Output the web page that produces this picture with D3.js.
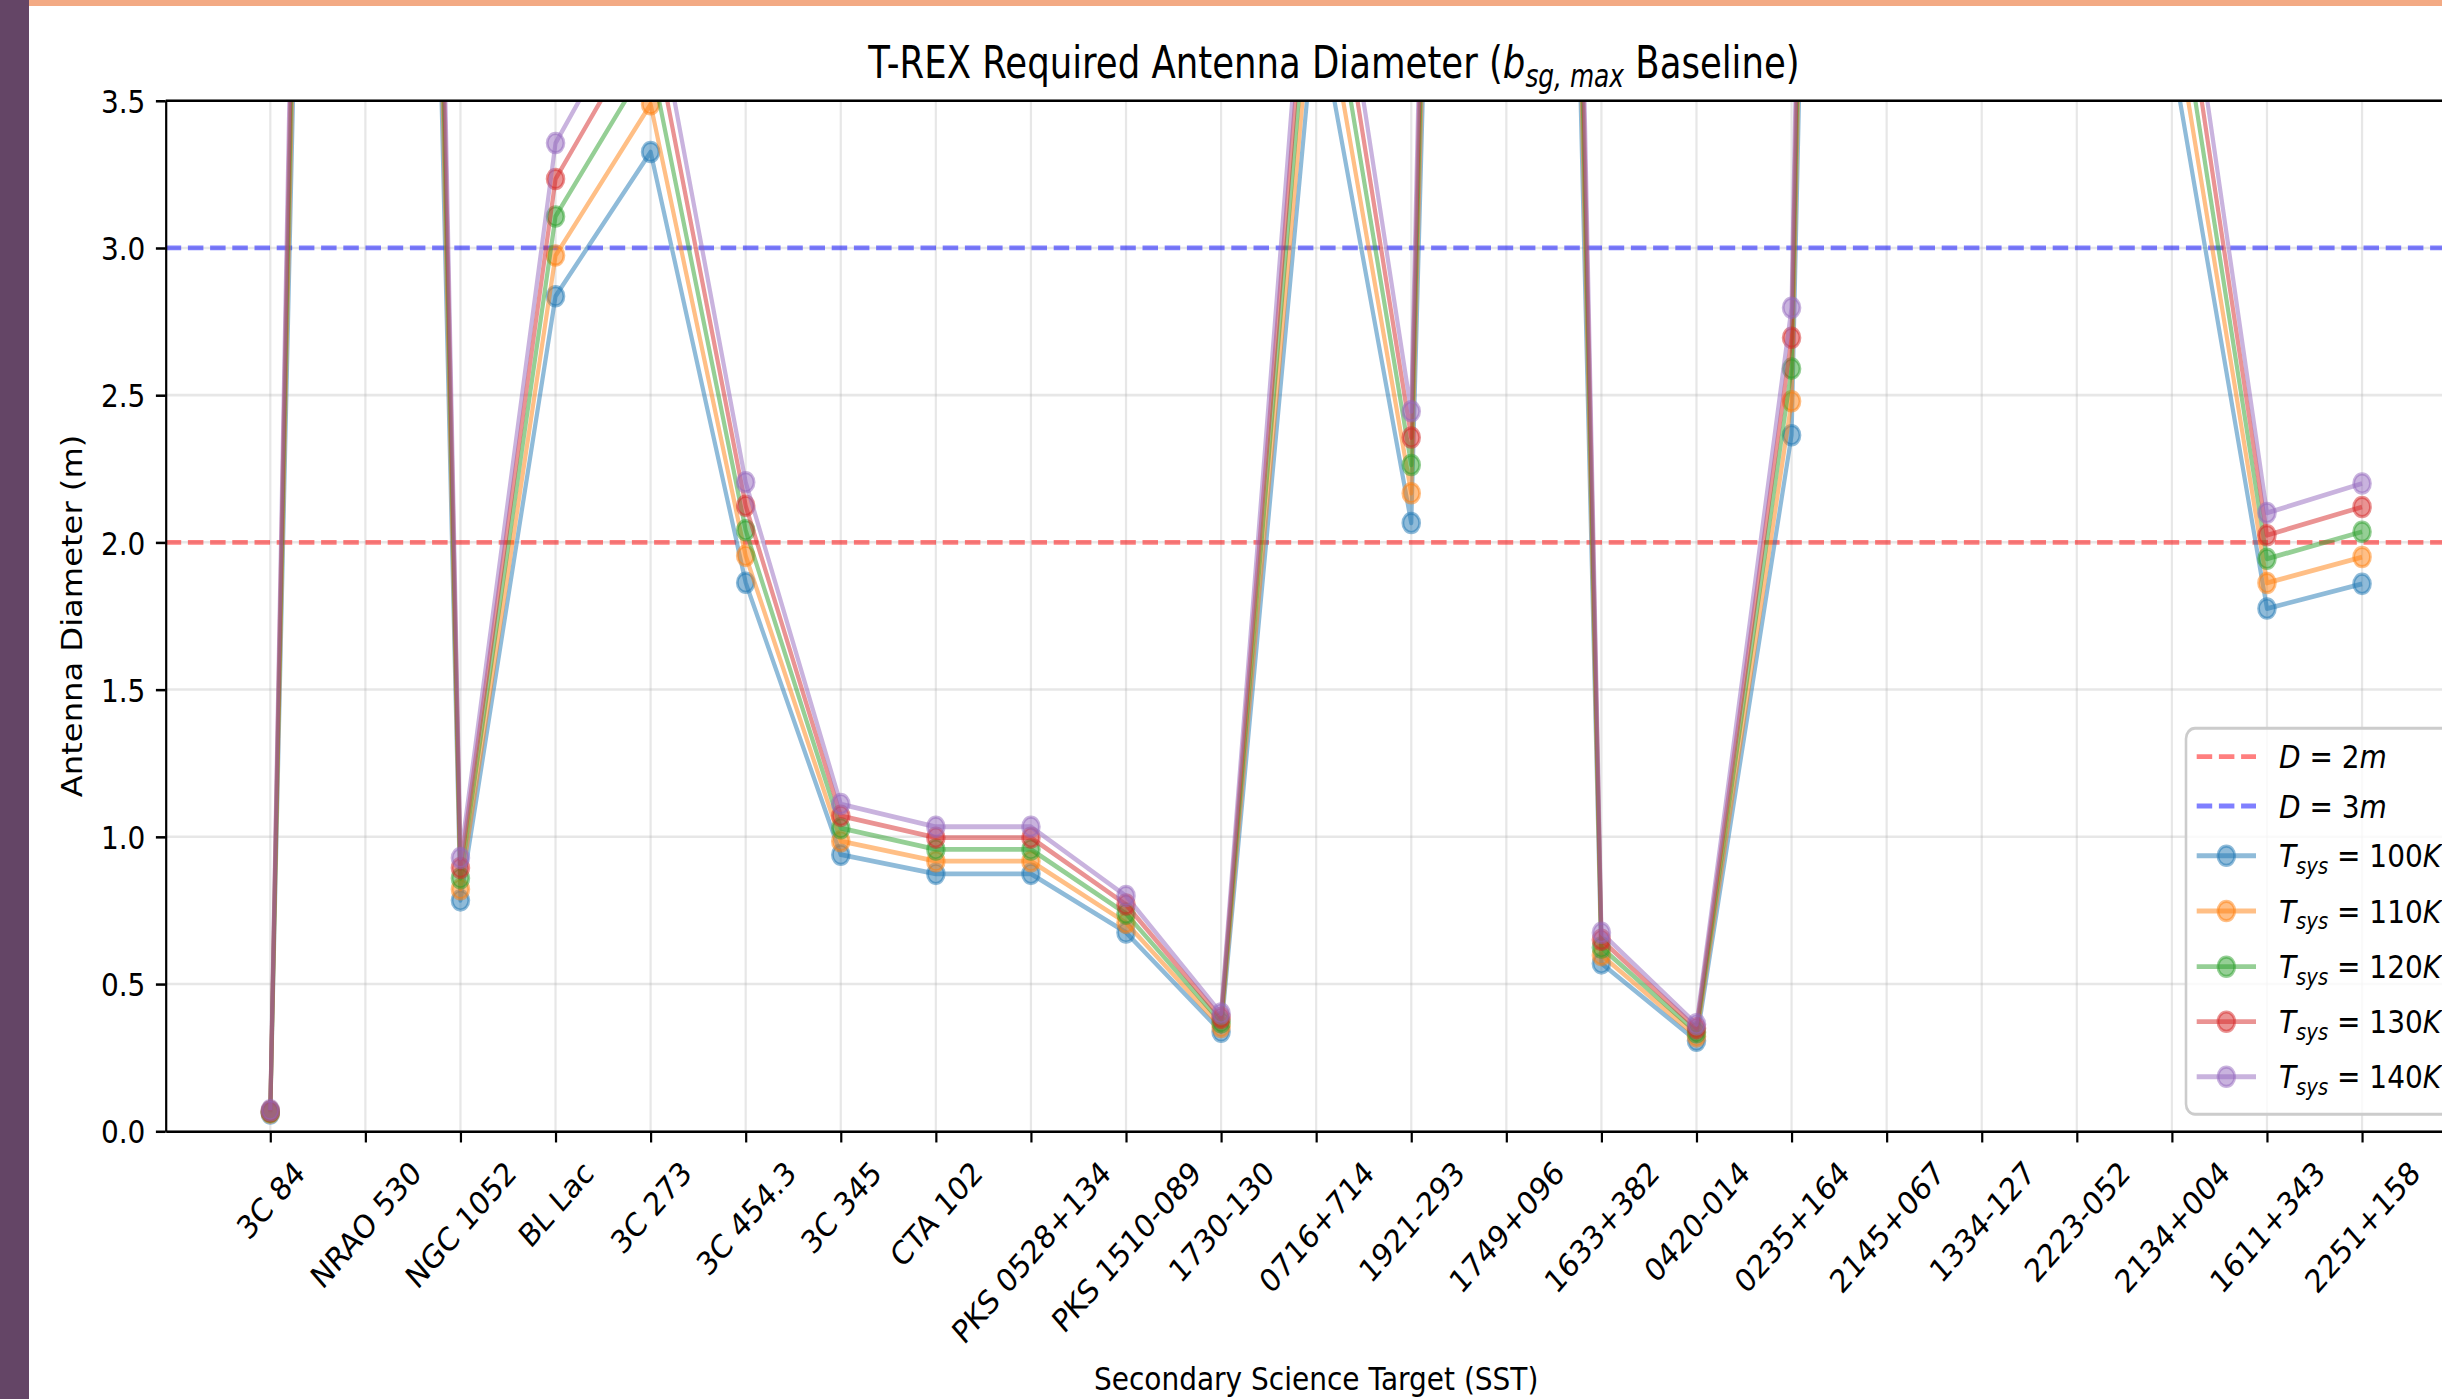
<!DOCTYPE html>
<html><head><meta charset="utf-8">
<script src="https://cdn.jsdelivr.net/npm/d3@7"></script>
<style>
html,body{margin:0;padding:0;background:#fff;}
svg{display:block;font-family:"DejaVu Sans",sans-serif;}
</style></head><body>
<svg id="chart" width="2442" height="1399"></svg>
<script>
// ---------- data ----------
const categories = ["3C 84","NRAO 530","NGC 1052","BL Lac","3C 273","3C 454.3","3C 345","CTA 102",
  "PKS 0528+134","PKS 1510-089","1730-130","0716+714","1921-293","1749+096","1633+382","0420-014",
  "0235+164","2145+067","1334-127","2223-052","2134+004","1611+343","2251+158"];
const tsysValues = [100, 110, 120, 130, 140];
const d100 = [0.060,14.50,0.784,2.836,3.326,1.863,0.939,0.874,0.874,0.675,0.338,3.840,2.066,14.00,0.570,0.307,2.364,17.00,8.20,11.40,3.660,1.775,1.859];
const d110 = [0.063,15.21,0.822,2.974,3.488,1.954,0.985,0.917,0.917,0.708,0.354,4.027,2.167,14.68,0.598,0.322,2.479,17.83,8.60,11.96,3.839,1.862,1.950];
const d120 = [0.066,15.88,0.859,3.107,3.643,2.041,1.029,0.957,0.957,0.739,0.370,4.207,2.263,15.34,0.624,0.336,2.590,18.62,8.98,12.49,4.009,1.944,2.036];
const d130 = [0.068,16.53,0.894,3.234,3.792,2.124,1.071,0.997,0.997,0.770,0.385,4.378,2.356,15.96,0.650,0.350,2.695,19.38,9.35,13.00,4.173,2.024,2.120];
const d140 = [0.071,17.16,0.928,3.356,3.935,2.204,1.111,1.034,1.034,0.799,0.400,4.544,2.445,16.57,0.674,0.363,2.797,20.11,9.70,13.49,4.331,2.100,2.200];
const seriesValues = [d100, d110, d120, d130, d140];
const seriesColors = ["#1f77b4","#ff7f0e","#2ca02c","#d62728","#9467bd"];
const refValues = [2, 3];
const refLabels = ["2", "3"];
const refColors = ["#ff0000", "#0000ff"];
const yTicks = [0, 0.5, 1.0, 1.5, 2.0, 2.5, 3.0, 3.5];

// ---------- layout ----------
const W = 2442, H = 1399, SY = 1.15;   // reference image is vertically stretched
const FS = 28;
const svg = d3.select("#chart");
svg.append("rect").attr("width", W).attr("height", H).attr("fill", "#fff");

const g = svg.append("g").attr("transform", `scale(1,${SY})`);
const plotLeft = 165.7, step = 95.08;
const plotTop = 100.7 / SY, plotBottom = 1131.2 / SY;
const n = categories.length;
const x = d3.scaleLinear().domain([-1.1, n - 1 + 1.1]).range([plotLeft, plotLeft + (n - 1 + 2.2) * step]);
const y = d3.scaleLinear().domain([0, 3.5]).range([plotBottom, plotTop]);
const plotRight = x.range()[1];

g.append("clipPath").attr("id", "clip").append("rect")
  .attr("x", plotLeft).attr("y", plotTop).attr("width", plotRight - plotLeft).attr("height", plotBottom - plotTop);

// grid
const grid = g.append("g");
grid.selectAll(".gx").data(d3.range(n)).join("line")
  .attr("x1", d => x(d)).attr("x2", d => x(d)).attr("y1", plotTop).attr("y2", plotBottom)
  .attr("stroke", "#b0b0b0").attr("stroke-opacity", 0.3).attr("stroke-width", 2.2);
grid.selectAll(".gy").data(yTicks).join("line")
  .attr("x1", plotLeft).attr("x2", plotRight).attr("y1", d => y(d)).attr("y2", d => y(d))
  .attr("stroke", "#b0b0b0").attr("stroke-opacity", 0.3).attr("stroke-width", 2.2);

const plot = g.append("g").attr("clip-path", "url(#clip)");
// reference lines
refValues.forEach((v, i) => {
  plot.append("line").attr("x1", plotLeft).attr("x2", plotRight).attr("y1", y(v)).attr("y2", y(v))
    .attr("stroke", refColors[i]).attr("stroke-opacity", 0.5).attr("stroke-width", 4.2)
    .attr("stroke-dasharray", "15.5,6.7");
});
// series
const line = d3.line().x((d, i) => x(i)).y(d => y(d));
seriesValues.forEach((vals, s) => {
  plot.append("path").datum(vals).attr("d", line).attr("fill", "none")
    .attr("stroke", seriesColors[s]).attr("stroke-opacity", 0.5).attr("stroke-width", 4.2)
    .attr("stroke-linejoin", "round").attr("stroke-linecap", "butt");
  plot.selectAll(null).data(vals).join("circle")
    .attr("cx", (d, i) => x(i)).attr("cy", d => y(d)).attr("r", 8.4)
    .attr("fill", seriesColors[s]).attr("fill-opacity", 0.5)
    .attr("stroke", seriesColors[s]).attr("stroke-opacity", 0.5).attr("stroke-width", 2.8);
});

// axes
const xAxis = d3.axisBottom(x).tickValues(d3.range(n)).tickFormat(i => categories[i])
  .tickSize(9.8).tickSizeOuter(0);
const gx = g.append("g").attr("transform", `translate(0,${plotBottom})`).call(xAxis);
gx.select(".domain").attr("stroke-width", 2.2);
gx.selectAll(".tick line").attr("stroke-width", 2.2);
gx.selectAll(".tick text").attr("font-size", FS).attr("fill", "#000")
  .attr("font-family", "DejaVu Sans").each(function () {
    const t = d3.select(this);
    t.attr("text-anchor", "middle").attr("dominant-baseline", "central").attr("y", 0).attr("dy", 0);
    const w = this.getComputedTextLength();
    const h = FS * 1.164;
    const off = 19.6 + (w + h) / (2 * Math.SQRT2);
    t.attr("transform", `translate(0,${off}) rotate(-45)`);
  });

const yAxis = d3.axisLeft(y).tickValues(yTicks).tickFormat(d3.format(".1f"))
  .tickSize(9.8).tickSizeOuter(0).tickPadding(10.5);
const gy = g.append("g").attr("transform", `translate(${plotLeft},0)`).call(yAxis);
gy.select(".domain").attr("stroke-width", 2.2);
gy.selectAll(".tick line").attr("stroke-width", 2.2);
gy.selectAll(".tick text").attr("font-size", FS).attr("fill", "#000").attr("font-family", "DejaVu Sans")
  .attr("dy", "0.36em");
// top spine
g.append("line").attr("x1", plotLeft).attr("x2", plotRight).attr("y1", plotTop).attr("y2", plotTop)
  .attr("stroke", "#000").attr("stroke-width", 2.2);

// axis labels
g.append("text").attr("x", (plotLeft + plotRight) / 2).attr("y", 1390 / SY).attr("text-anchor", "middle")
  .attr("font-size", FS).text("Secondary Science Target (SST)");
g.append("text").attr("transform", `translate(82,${(plotTop + plotBottom) / 2}) rotate(-90)`)
  .attr("text-anchor", "middle").attr("font-size", FS).text("Antenna Diameter (m)");

// title
const title = g.append("text")
  .attr("transform", `translate(1334,${78 / SY}) scale(1,1.1)`)
  .attr("text-anchor", "middle").attr("font-size", 35.5);
title.append("tspan").text("T-REX Required Antenna Diameter (");
title.append("tspan").attr("font-style", "italic").text("b");
title.append("tspan").attr("font-style", "italic").attr("font-size", 35.5 * 0.7).attr("dy", 7).text("sg, max");
title.append("tspan").attr("dy", -7).text(" Baseline)");

// legend
const lg = g.append("g");
const legTop = 728.3 / SY, legBottom = 1114.3 / SY;
lg.append("rect").attr("x", 2186).attr("y", legTop).attr("width", 400).attr("height", legBottom - legTop)
  .attr("rx", 9).attr("fill", "#fff").attr("fill-opacity", 0.8)
  .attr("stroke", "#cccccc").attr("stroke-width", 2.6);
const rowY = [658.0, 700.9, 744.1, 792.2, 840.6, 888.4, 936.3];
const hx0 = 2196.7, hx1 = 2256, tx = 2279;
refValues.forEach((v, i) => {
  const yy = rowY[i];
  lg.append("line").attr("x1", hx0).attr("x2", hx1).attr("y1", yy).attr("y2", yy)
    .attr("stroke", refColors[i]).attr("stroke-opacity", 0.5).attr("stroke-width", 4.2)
    .attr("stroke-dasharray", "15.5,6.7");
  const t = lg.append("text").attr("x", tx).attr("y", yy + 10).attr("font-size", FS);
  t.append("tspan").attr("font-style", "italic").text("D");
  t.append("tspan").text(" = " + refLabels[i]);
  t.append("tspan").attr("font-style", "italic").text("m");
});
tsysValues.forEach((tv, s) => {
  const yy = rowY[s + 2];
  lg.append("line").attr("x1", hx0).attr("x2", hx1).attr("y1", yy).attr("y2", yy)
    .attr("stroke", seriesColors[s]).attr("stroke-opacity", 0.5).attr("stroke-width", 4.2);
  lg.append("circle").attr("cx", (hx0 + hx1) / 2).attr("cy", yy).attr("r", 8.4)
    .attr("fill", seriesColors[s]).attr("fill-opacity", 0.5)
    .attr("stroke", seriesColors[s]).attr("stroke-opacity", 0.5).attr("stroke-width", 2.8);
  const t = lg.append("text").attr("x", tx).attr("y", yy + 10).attr("font-size", FS);
  t.append("tspan").attr("font-style", "italic").text("T");
  t.append("tspan").attr("font-style", "italic").attr("font-size", FS * 0.7).attr("dy", 6).text("sys");
  t.append("tspan").attr("dy", -6).text(" = " + tv);
  t.append("tspan").attr("font-style", "italic").text("K");
});

// slide decorations
svg.append("rect").attr("x", 0).attr("y", 0).attr("width", 29).attr("height", H).attr("fill", "#644566");
svg.append("rect").attr("x", 29).attr("y", 0).attr("width", W - 29).attr("height", 6).attr("fill", "#f3aa84");
</script>
</body></html>
